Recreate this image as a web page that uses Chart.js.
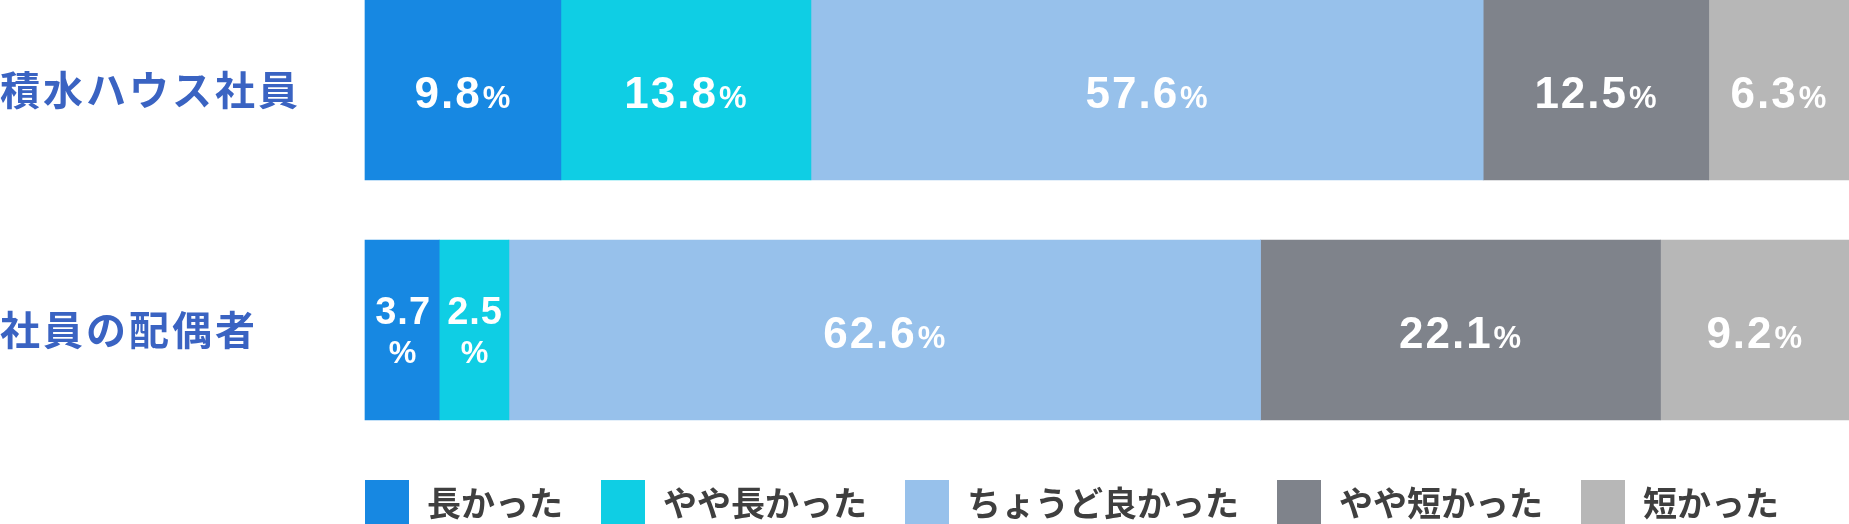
<!DOCTYPE html>
<html lang="ja">
<head>
<meta charset="utf-8">
<script src="https://cdn.jsdelivr.net/npm/chart.js@4"></script>
<style>
  html, body { margin: 0; padding: 0; background: #fff; }
  #wrap { position: relative; width: 1849px; height: 524px; overflow: hidden; }
  #chart { display: block; }
  #legend { position: absolute; left: 365px; top: 480px; display: flex; gap: 38px; }
  .item { display: flex; align-items: center; height: 44px; }
  .swatch { width: 44px; height: 44px; margin-right: 18px; }
  .name { font: 700 34px "Noto Sans CJK JP"; color: #3f3f3f; line-height: 44px; white-space: nowrap; }
</style>
</head>
<body>
<div id="wrap">
  <canvas id="chart" width="1849" height="524"></canvas>
  <div id="legend"></div>
</div>
<script>
// rows and answer categories
const categories = ['積水ハウス社員', '社員の配偶者'];
const answers = ['長かった', 'やや長かった', 'ちょうど良かった', 'やや短かった', '短かった'];
const colors = ['#1788e2', '#0fcee4', '#97c1eb', '#7f838b', '#b7b7b7'];

// printed percentages
const employeePct = [9.8, 13.8, 57.6, 12.5, 6.3];
const spousePct = [3.7, 2.5, 62.6, 22.1, 9.2];

// segment lengths as drawn in the picture (share of the full bar)
const employeeBar = [13.2, 16.85, 45.3, 15.2, 9.45];
const spouseBar = [5.0, 4.7, 50.65, 26.95, 12.7];

const datasets = answers.map((name, i) => ({
  label: name,
  data: [employeeBar[i], spouseBar[i]],
  pct: [employeePct[i], spousePct[i]],
  backgroundColor: colors[i],
  borderWidth: 0,
  barThickness: 180,
  clip: false
}));

// spaced out row names, like the original
const labelSpacing = {
  id: 'labelSpacing',
  beforeDraw(chart) { chart.ctx.letterSpacing = '3px'; },
  afterDraw(chart) { chart.ctx.letterSpacing = '0px'; }
};

// white % labels inside the bars
const valueLabels = {
  id: 'valueLabels',
  afterDatasetsDraw(chart) {
    const ctx = chart.ctx;
    const big = 'bold 44px "Liberation Sans"';
    const mid = 'bold 38px "Liberation Sans"';
    const small = 'bold 31px "Liberation Sans"';
    ctx.save();
    ctx.fillStyle = '#fff';
    ctx.textBaseline = 'alphabetic';
    chart.data.datasets.forEach((ds, di) => {
      chart.getDatasetMeta(di).data.forEach((bar, i) => {
        const num = ds.pct[i].toFixed(1);
        const left = Math.min(bar.x, bar.base);
        const right = Math.max(bar.x, bar.base);
        const cx = (left + right) / 2;
        const cy = bar.y;
        ctx.letterSpacing = '2px';
        ctx.font = big;
        const wNum = ctx.measureText(num).width;
        ctx.font = small;
        const wPct = ctx.measureText('%').width;
        if (wNum + wPct + 20 < right - left) {
          const x = cx - (wNum + wPct) / 2;
          ctx.textAlign = 'left';
          ctx.font = big;
          ctx.fillText(num, x, cy + 18);
          ctx.font = small;
          ctx.fillText('%', x + wNum + 1, cy + 18);
        } else {
          // too narrow: number on top, % below
          ctx.textAlign = 'center';
          ctx.letterSpacing = '1px';
          ctx.font = mid;
          ctx.fillText(num, cx + 1, cy - 6);
          ctx.font = small;
          ctx.fillText('%', cx + 1, cy + 33);
        }
      });
    });
    ctx.restore();
  }
};

const chart = new Chart(document.getElementById('chart'), {
  type: 'bar',
  data: { labels: categories, datasets: datasets },
  options: {
    indexAxis: 'y',
    responsive: false,
    animation: false,
    layout: { padding: { top: 90, bottom: 194, left: 0, right: 0 } },
    scales: {
      x: { stacked: true, min: 0, max: 100, display: false },
      y: {
        stacked: true,
        offset: false,
        grid: { display: false },
        border: { display: false },
        ticks: {
          crossAlign: 'far',
          color: '#3a63c2',
          font: { family: '"Noto Sans CJK JP"', size: 40, weight: 'bold' }
        },
        afterFit(scale) { scale.width = 365; }
      }
    },
    plugins: {
      legend: { display: false },
      tooltip: { enabled: false }
    }
  },
  plugins: [labelSpacing, valueLabels]
});

// html legend under the bars
const legendBox = document.getElementById('legend');
chart.data.datasets.forEach(ds => {
  const item = document.createElement('div');
  item.className = 'item';
  const sw = document.createElement('span');
  sw.className = 'swatch';
  sw.style.background = ds.backgroundColor;
  const txt = document.createElement('span');
  txt.className = 'name';
  txt.textContent = ds.label;
  item.appendChild(sw);
  item.appendChild(txt);
  legendBox.appendChild(item);
});
</script>
</body>
</html>
